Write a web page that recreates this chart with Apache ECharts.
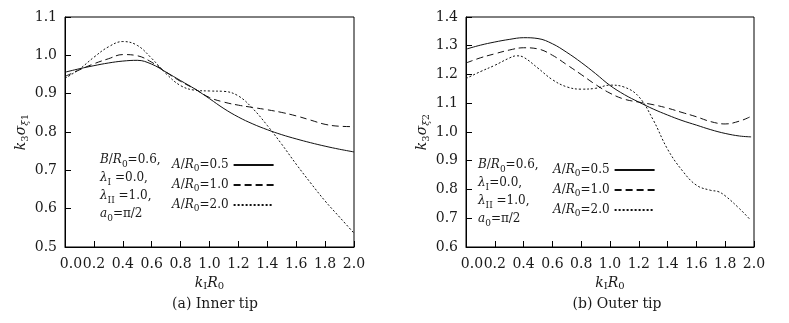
<!DOCTYPE html>
<html>
<head>
<meta charset="utf-8">
<script src="https://cdn.jsdelivr.net/npm/echarts@6/dist/echarts.min.js"></script>
<style>html,body{margin:0;padding:0;background:#fff;}#c{width:789px;height:323px;}</style>
</head>
<body>
<div id="c"></div>
<script>
// ---- data ----
const seriesNames = ['A/R0=0.5', 'A/R0=1.0', 'A/R0=2.0'];
const xInner = [0,0.1,0.2,0.3,0.4,0.5,0.6,0.7,0.8,0.9,1.0,1.1,1.2,1.3,1.4,1.5,1.6,1.7,1.8,1.9,2.0];
const innerA05 = [0.956,0.965,0.973,0.980,0.985,0.987,0.977,0.956,0.934,0.912,0.887,0.861,0.839,0.821,0.806,0.793,0.782,0.772,0.763,0.755,0.748];
const innerA10 = [0.945,0.962,0.978,0.991,1.002,0.999,0.982,0.956,0.932,0.912,0.890,0.878,0.870,0.864,0.858,0.851,0.842,0.831,0.820,0.815,0.814];
const innerA20 = [0.940,0.964,0.995,1.022,1.036,1.026,0.992,0.952,0.921,0.909,0.907,0.906,0.894,0.861,0.817,0.768,0.716,0.667,0.620,0.578,0.536];

const xOuterA05 = [0,0.1,0.2,0.3,0.4,0.5,0.6,0.7,0.8,0.9,1.0,1.1,1.2,1.3,1.4,1.5,1.6,1.7,1.8,1.9,1.98];
const outerA05 = [1.288,1.302,1.313,1.322,1.328,1.325,1.307,1.277,1.242,1.203,1.162,1.130,1.104,1.080,1.059,1.040,1.024,1.008,0.995,0.986,0.983];
const xOuterA10 = [0,0.1,0.2,0.3,0.4,0.5,0.6,0.7,0.8,0.9,1.0,1.1,1.2,1.3,1.4,1.5,1.6,1.7,1.8,1.9,1.97];
const outerA10 = [1.240,1.258,1.272,1.285,1.293,1.289,1.267,1.234,1.200,1.165,1.135,1.114,1.104,1.095,1.083,1.068,1.053,1.036,1.028,1.038,1.052];
const xOuterA20 = [0,0.1,0.2,0.3,0.35,0.4,0.5,0.6,0.7,0.8,0.9,1.0,1.1,1.2,1.3,1.4,1.5,1.6,1.7,1.75,1.8,1.9,1.97];
const outerA20 = [1.186,1.210,1.232,1.257,1.265,1.260,1.222,1.182,1.157,1.149,1.152,1.163,1.156,1.123,1.042,0.940,0.867,0.815,0.797,0.793,0.778,0.733,0.697];

const xTicks = {min:0, max:2, interval:0.2};
const innerY = {min:0.5, max:1.1, interval:0.1};
const outerY = {min:0.6, max:1.4, interval:0.1};
// ---- end data ----

const FF = 'DejaVu Serif';
const TXT = '#1a1a1a';
const richBase = {
  n: {fontFamily: FF, fontSize: 14, color: TXT, lineHeight: 18},
  i: {fontFamily: FF, fontSize: 14, fontStyle: 'italic', color: TXT, lineHeight: 18},
  s: {fontFamily: FF, fontSize: 10, color: TXT, lineHeight: 10, verticalAlign: 'bottom'},
  si: {fontFamily: FF, fontSize: 10, fontStyle: 'italic', color: TXT, lineHeight: 10, verticalAlign: 'bottom'}
};
const richSmall = {
  n: {fontFamily: FF, fontSize: 12, color: TXT, lineHeight: 16},
  i: {fontFamily: FF, fontSize: 12, fontStyle: 'italic', color: TXT, lineHeight: 16},
  s: {fontFamily: FF, fontSize: 9, color: TXT, lineHeight: 9, verticalAlign: 'bottom'}
};
const richAnn = {
  n: {fontFamily: FF, fontSize: 12, color: TXT, lineHeight: 18},
  i: {fontFamily: FF, fontSize: 12, fontStyle: 'italic', color: TXT, lineHeight: 18},
  s: {fontFamily: FF, fontSize: 9, color: TXT, lineHeight: 12, verticalAlign: 'bottom'}
};

function pairs(xs, ys){ return xs.map((x,k)=>[x, ys[k]]); }

const lineTypes = ['solid', [7,4], [2,2]];

function xAxisDef(gi){
  return {
    type:'value', gridIndex: gi, min: xTicks.min, max: xTicks.max, interval: xTicks.interval,
    name: '{i|k}{s|I}{i|R}{s|0}', nameLocation:'middle', nameGap: 23,
    nameTextStyle: {rich: richBase},
    axisLine: {show:true, lineStyle:{color:'#000', width:1}},
    axisTick: {show:true, inside:true, length:6, lineStyle:{color:'#000'}},
    splitLine: {show:false},
    axisLabel: {
      margin: 10, fontFamily: FF, fontSize: 14, color: TXT, showMinLabel:true, showMaxLabel:true,
      hideOverlap: false, interval: 0,
      formatter: v => (Math.abs(v) < 1e-9 ? '{z|0.0}' : v.toFixed(1)),
      rich: {z: {fontFamily: FF, fontSize: 14, color: TXT, padding:[0,0,0,12]}}
    }
  };
}
function yAxisDef(gi, r, nameStr, gap){
  return {
    type:'value', gridIndex: gi, min: r.min, max: r.max, interval: r.interval,
    name: nameStr, nameLocation:'middle', nameGap: gap, nameRotate: 90,
    nameTextStyle: {rich: richBase},
    axisLine: {show:true, lineStyle:{color:'#000', width:1}},
    axisTick: {show:true, inside:true, length:6, lineStyle:{color:'#000'}},
    splitLine: {show:false},
    axisLabel: {margin: 8, fontFamily: FF, fontSize: 14, color: TXT, formatter: v => v.toFixed(1)}
  };
}

function seriesDef(name, gi, xs, ys, k){
  return {
    name: name, type:'line', xAxisIndex: gi, yAxisIndex: gi,
    data: pairs(xs, ys), smooth: 0.4, symbol:'none', showSymbol:false,
    lineStyle: {color:'#111', width: 1, type: lineTypes[k]},
    itemStyle: {color:'#111'}
  };
}

function legendDef(left, top){
  return {
    left: left, top: top, orient:'vertical', align:'right',
    itemWidth: 40, itemHeight: 14, itemGap: 6,
    data: seriesNames,
    itemStyle: {opacity: 0},
    formatter: n => '{i|A}{n|/}{i|R}{s|0}{n|=' + n.split('=')[1] + '}',
    textStyle: {rich: richSmall}
  };
}

function annot(left, top, lamSpace){
  const sp = lamSpace ? ' ' : '';
  const lines = [
    '{i|B}{n|/}{i|R}{s|0}{n|=0.6,}',
    '{i|λ}{s|I}{n|' + sp + '=0.0,}',
    '{i|λ}{s|II}{n| =1.0,}',
    '{i|a}{s|0}{n|=π/2}'
  ];
  return {
    type:'text', left: left, top: top, z: 10,
    style: {text: lines.join('\n'), rich: richAnn, fill: TXT}
  };
}

const chart = echarts.init(document.getElementById('c'), null, {renderer:'canvas'});
chart.setOption({
  backgroundColor:'#fff',
  animation:false,
  title: [
    {text:'(a) Inner tip', left: 210, top: 292, textAlign:'center',
     textStyle:{fontFamily:FF, fontSize:14, fontWeight:'normal', color:TXT}},
    {text:'(b) Outer tip', left: 612, top: 292, textAlign:'center',
     textStyle:{fontFamily:FF, fontSize:14, fontWeight:'normal', color:TXT}}
  ],
  grid: [
    {left:65, top:17, width:289, height:230, show:true, borderColor:'#000', borderWidth:1, containLabel:false},
    {left:466, top:17, width:288, height:230, show:true, borderColor:'#000', borderWidth:1, containLabel:false}
  ],
  xAxis: [xAxisDef(0), xAxisDef(1)],
  yAxis: [
    yAxisDef(0, innerY, '{i|k}{s|3}{i|σ}{si|ξ}{s|1}', 32),
    yAxisDef(1, outerY, '{i|k}{s|3}{i|σ}{si|ξ}{s|2}', 34)
  ],
  legend: [legendDef(167, 154), legendDef(548, 159)],
  graphic: [annot(100, 154, true), annot(478, 159, false)],
  series: [
    seriesDef(seriesNames[0], 0, xInner, innerA05, 0),
    seriesDef(seriesNames[1], 0, xInner, innerA10, 1),
    seriesDef(seriesNames[2], 0, xInner, innerA20, 2),
    seriesDef(seriesNames[0], 1, xOuterA05, outerA05, 0),
    seriesDef(seriesNames[1], 1, xOuterA10, outerA10, 1),
    seriesDef(seriesNames[2], 1, xOuterA20, outerA20, 2)
  ]
});
</script>
</body>
</html>
